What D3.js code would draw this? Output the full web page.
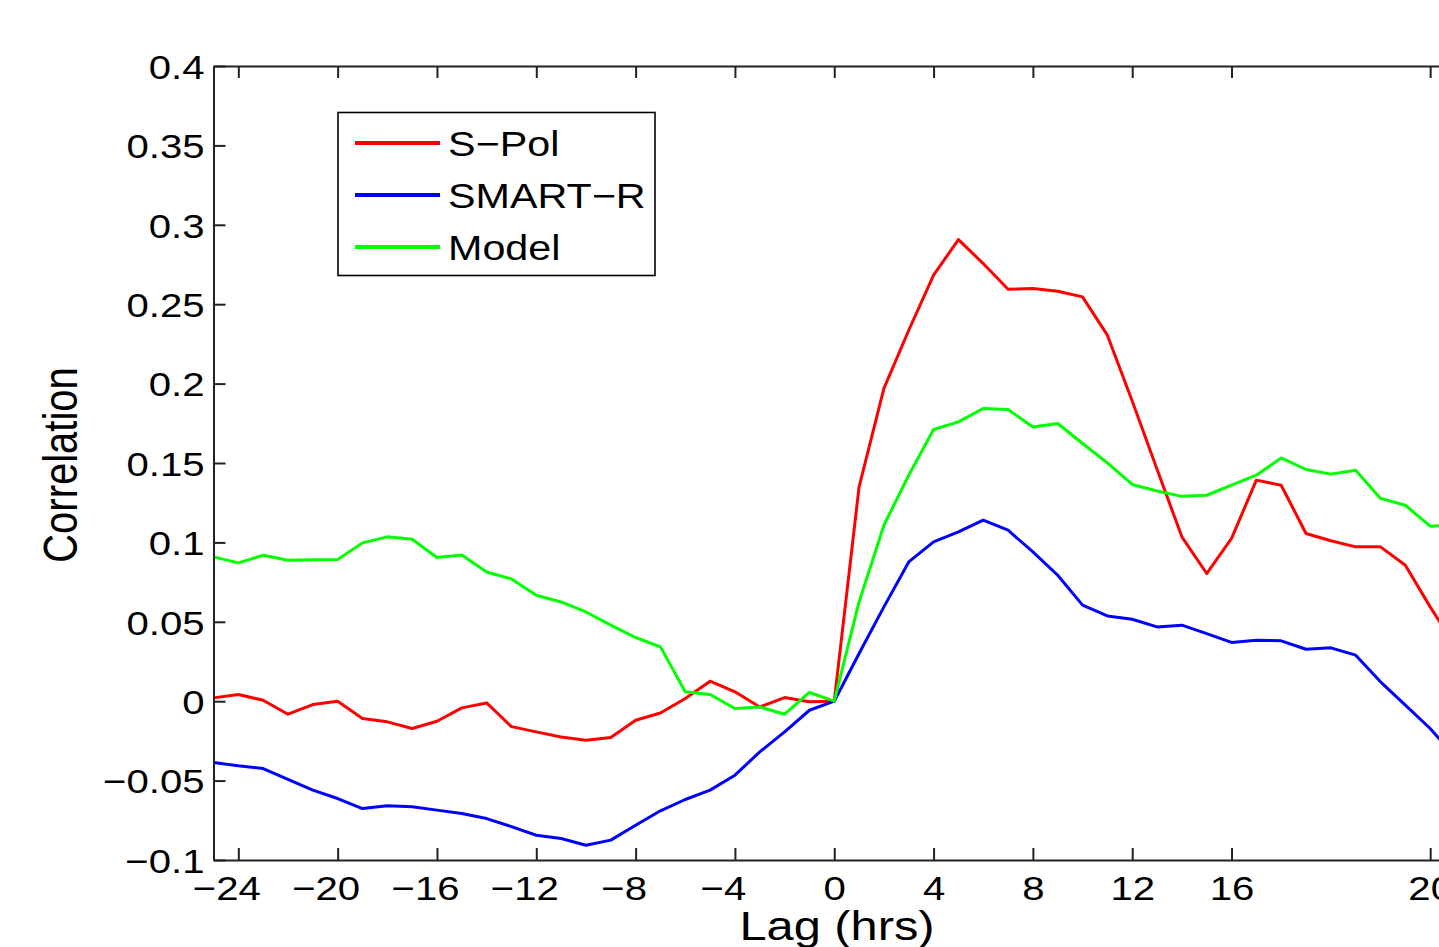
<!DOCTYPE html>
<html><head><meta charset="utf-8">
<script src="https://cdn.jsdelivr.net/npm/d3@7"></script>
<style>
body{margin:0;background:#fff;}
svg{display:block;}
text{font-family:"Liberation Sans",Arial,Helvetica,sans-serif;fill:#000;}
</style>
</head><body><svg id="c" width="1439" height="947"></svg>
<script>
// ---------- data ----------
const lags = [-25,-24,-23,-22,-21,-20,-19,-18,-17,-16,-15,-14,-13,-12,-11,-10,-9,-8,-7,-6,-5,-4,-3,-2,-1,
  0,1,2,3,4,5,6,7,8,9,10,11,12,13,14,15,16,17,18,19,20,21,22,23,24,25];
const sPol = [0.0021,0.0042,0.0006,-0.0082,-0.0021,0.0000,-0.0109,-0.0130,-0.0172,-0.0126,-0.0042,-0.0011,-0.0160,
  -0.0193,-0.0225,-0.0246,-0.0229,-0.0120,-0.0074,0.0017,0.0126,0.0059,-0.0036,0.0023,-0.0004,
  0,0.135,0.197,0.2336,0.2683,0.2907,0.2756,0.2594,0.2599,0.2582,0.2546,0.2305,0.1890,0.1460,0.1035,0.0804,
  0.1025,0.1392,0.1360,0.1056,0.1010,0.0972,0.0972,0.0856,0.0594,0.035];
const smartR = [-0.0386,-0.0407,-0.0424,-0.0493,-0.0560,-0.0613,-0.0676,-0.0659,-0.0665,-0.0686,-0.0707,-0.0739,-0.0790,
  -0.0844,-0.0865,-0.0907,-0.0875,-0.0781,-0.0690,-0.0619,-0.0560,-0.0466,-0.0319,-0.0193,-0.0057,
  0,0.030,0.0594,0.0877,0.1003,0.1066,0.1140,0.1077,0.0940,0.0793,0.0605,0.0537,0.0516,0.0468,0.0479,0.0426,
  0.0370,0.0384,0.0380,0.0327,0.0336,0.0290,0.0122,-0.0025,-0.0172,-0.035];
const model = [0.0909,0.0871,0.0919,0.0888,0.0890,0.0892,0.0997,0.1035,0.1020,0.0905,0.0920,0.0814,0.0770,
  0.0667,0.0625,0.0562,0.0479,0.0401,0.0342,0.0059,0.0042,-0.0046,-0.0036,-0.0082,0.0055,
  0,0.0625,0.1108,0.1423,0.1711,0.1759,0.1843,0.1837,0.1727,0.1749,0.1623,0.1501,0.1365,0.1324,0.1290,0.1297,
  0.1360,0.1423,0.1532,0.1459,0.1430,0.1455,0.1277,0.1234,0.1102,0.111];
const xTicks = [-24,-20,-16,-12,-8,-4,0,4,8,12,16,24];
const xTickLabels = ["\u221224","\u221220","\u221216","\u221212","\u22128","\u22124","0","4","8","12","16","20"];
const yTicks = [-0.1,-0.05,0,0.05,0.1,0.15,0.2,0.25,0.3,0.35,0.4];
const yTickLabels = ["\u22120.1","\u22120.05","0","0.05","0.1","0.15","0.2","0.25","0.3","0.35","0.4"];
const seriesNames = ["S\u2212Pol","SMART\u2212R","Model"];
const seriesColors = ["#ff0000","#0000ff","#00ff00"];
const seriesData = [sPol, smartR, model];

// ---------- layout ----------
const SX = 1.18;
const plotLeft = 213.5, plotTop = 66, plotBottom = 860;
const x = d3.scaleLinear().domain([-25,25]).range([plotLeft, plotLeft + 50*24.83]);
const y = d3.scaleLinear().domain([-0.1,0.4]).range([plotBottom, plotTop]);
const svg = d3.select("#c");
svg.append("rect").attr("width",1439).attr("height",947).attr("fill","#fff");

// lines
const line = d3.line().x((d,i)=>x(lags[i])).y(d=>y(d));
seriesData.forEach((s,k)=>{
  svg.append("path").datum(s).attr("d",line).attr("fill","none")
    .attr("stroke",seriesColors[k]).attr("stroke-width",3).attr("stroke-linejoin","round");
});

const axisColor = "#222";
// bottom axis
const gx = svg.append("g").attr("transform",`translate(0,${plotBottom})`)
  .call(d3.axisBottom(x).tickValues(xTicks).tickFormat((d,i)=>xTickLabels[i]).tickSizeInner(-12).tickSizeOuter(0));
gx.selectAll("text").attr("y",40).attr("dy",null)
  .attr("x",(d)=> d<0 ? -12/SX : 0)
  .attr("transform",`scale(${SX},1)`).style("font-size","34px");
// top axis
svg.append("g").attr("transform",`translate(0,${plotTop})`)
  .call(d3.axisTop(x).tickValues(xTicks).tickFormat("").tickSizeInner(-12).tickSizeOuter(0));
// left axis
const gy = svg.append("g").attr("transform",`translate(${plotLeft},0)`)
  .call(d3.axisLeft(y).tickValues(yTicks).tickFormat((d,i)=>yTickLabels[i]).tickSizeInner(-12).tickSizeOuter(0));
gy.selectAll("text").attr("x",-9/SX).attr("dy","0.36em")
  .attr("transform",`scale(${SX},1)`).style("font-size","34px");
svg.selectAll("g").attr("font-family",null).attr("font-size",null);
svg.selectAll(".domain").attr("stroke",axisColor).attr("stroke-width",2);
svg.selectAll(".tick line").attr("stroke",axisColor).attr("stroke-width",2);

// axis titles
svg.append("text").attr("transform",`translate(837,940) scale(1.22,1)`)
  .attr("text-anchor","middle").style("font-size","40px").text("Lag (hrs)");
svg.append("text").attr("transform",`translate(77,465) rotate(-90) scale(1,${SX})`)
  .attr("text-anchor","middle").style("font-size","40px").text("Correlation");

// legend
const lg = svg.append("g");
lg.append("rect").attr("x",338).attr("y",112.5).attr("width",317).attr("height",163)
  .attr("fill","#fff").attr("stroke","#000").attr("stroke-width",1.6);
const legY = [143,195,247];
seriesNames.forEach((n,k)=>{
  lg.append("line").attr("x1",355).attr("x2",440).attr("y1",legY[k]).attr("y2",legY[k])
    .attr("stroke",seriesColors[k]).attr("stroke-width",4);
  lg.append("text").attr("transform",`translate(448,${legY[k]}) scale(${SX},1)`)
    .attr("dy","0.36em").style("font-size","35px").text(n);
});
</script>
</body></html>
